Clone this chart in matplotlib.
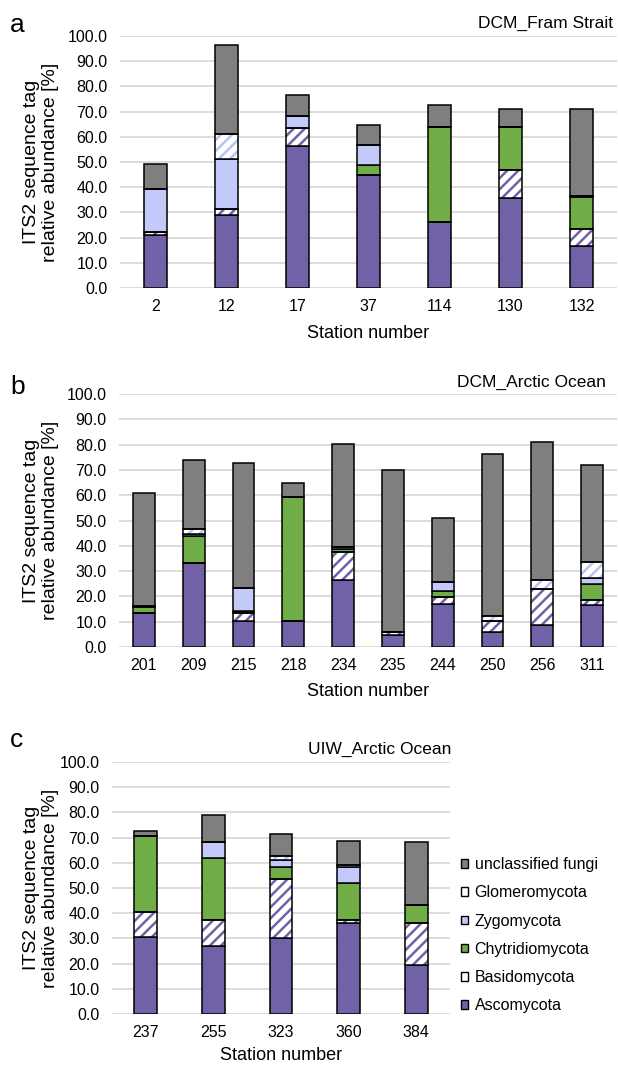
import numpy as np
import matplotlib
matplotlib.use("Agg")
import matplotlib.pyplot as plt
from matplotlib.patches import Patch

plt.rcParams["font.family"] = ["Liberation Sans", "DejaVu Sans"]
plt.rcParams["hatch.linewidth"] = 1.8

# groups in stacking order (bottom -> top)
groups = ["Ascomycota", "Basidomycota", "Chytridiomycota",
          "Zygomycota", "Glomeromycota", "unclassified fungi"]

# panel a: DCM_Fram Strait
stations_a = ["2", "12", "17", "37", "114", "130", "132"]
asco_a = [21.0, 28.8, 56.3, 45.0, 26.1, 35.8, 16.8]
basid_a = [1.4, 2.5, 7.1, 0.0, 0.0, 11.2, 6.5]
chytr_a = [0.0, 0.0, 0.0, 3.8, 37.9, 17.0, 12.7]
zygo_a = [16.9, 20.0, 4.9, 8.1, 0.0, 0.0, 0.4]
glom_a = [0.0, 9.8, 0.0, 0.0, 0.0, 0.0, 0.3]
uncl_a = [10.0, 35.5, 8.4, 7.9, 8.5, 7.2, 34.5]

# panel b: DCM_Arctic Ocean
stations_b = ["201", "209", "215", "218", "234", "235", "244", "250", "256", "311"]
asco_b = [13.6, 33.2, 10.2, 10.2, 26.4, 4.7, 17.0, 5.9, 8.8, 16.5]
basid_b = [0.0, 0.0, 3.1, 0.0, 11.1, 1.2, 2.9, 4.3, 14.0, 2.1]
chytr_b = [2.2, 10.5, 0.9, 49.0, 1.2, 0.0, 2.3, 0.0, 0.0, 6.2]
zygo_b = [0.3, 1.0, 9.3, 0.0, 1.0, 0.0, 3.5, 0.0, 0.0, 2.4]
glom_b = [0.0, 1.9, 0.0, 0.0, 0.0, 0.0, 0.0, 2.1, 3.7, 6.2]
uncl_b = [44.6, 27.5, 49.2, 5.7, 40.6, 63.9, 25.1, 63.8, 54.5, 38.6]

# panel c: UIW_Arctic Ocean
stations_c = ["237", "255", "323", "360", "384"]
asco_c = [30.5, 26.9, 30.0, 36.2, 19.3]
basid_c = [9.9, 10.6, 23.6, 1.1, 16.9]
chytr_c = [30.1, 24.6, 4.9, 14.5, 6.9]
zygo_c = [0.0, 6.2, 2.8, 6.7, 0.0]
glom_c = [0.0, 0.0, 1.5, 0.8, 0.0]
uncl_c = [2.3, 10.7, 8.5, 9.3, 25.3]

yticks = np.arange(0, 101, 10)

# fill colour, hatch colour (None = plain fill)
styles = {
    "Ascomycota": ("#7161a7", None),
    "Basidomycota": ("white", "#7161a7"),
    "Chytridiomycota": ("#70ad47", None),
    "Zygomycota": ("#c3c9f8", None),
    "Glomeromycota": ("white", "#b8c2f5"),
    "unclassified fungi": ("#7f7f7f", None),
}

W, H = 618, 1065
fig = plt.figure(figsize=(W / 100, H / 100), dpi=100)


def px_axes(left, right, top, bottom):
    return fig.add_axes([left / W, 1 - bottom / H, (right - left) / W, (bottom - top) / H])


def draw_panel(ax, stations, series, width, xpad=8):
    x = np.arange(len(stations))
    bottom = np.zeros(len(stations))
    for name, vals in zip(groups, series):
        vals = np.array(vals)
        fill, hatch_col = styles[name]
        if hatch_col is None:
            ax.bar(x, vals, width, bottom=bottom, color=fill,
                   edgecolor="black", linewidth=1.1, zorder=3)
        else:
            # hatch drawn in its own colour, outline drawn on top in black
            ax.bar(x, vals, width, bottom=bottom, color="white",
                   edgecolor=hatch_col, hatch="///", linewidth=0, zorder=3)
            ax.bar(x, vals, width, bottom=bottom, fill=False,
                   edgecolor="black", linewidth=1.1, zorder=4)
        bottom += vals

    ax.set_xlim(-0.5, len(stations) - 0.5)
    ax.set_ylim(0, 100)
    ax.set_xticks(x)
    ax.set_xticklabels(stations)
    ax.set_yticks(yticks)
    ax.set_yticklabels([f"{v:.1f}" for v in yticks])
    ax.tick_params(length=0, labelsize=11.5)
    ax.tick_params(axis="y", pad=9)
    ax.tick_params(axis="x", pad=8)
    ax.grid(axis="y", color="#d9d9d9", linewidth=1.3, zorder=0)
    ax.set_axisbelow(True)
    for s in ax.spines.values():
        s.set_visible(False)
    ax.set_xlabel("Station number", fontsize=13, labelpad=xpad)


def ylabel(top, bottom):
    fig.text(41 / W, 1 - (top + bottom) / 2 / H,
             "ITS2 sequence tag\nrelative abundance [%]",
             rotation=90, ha="center", va="center", fontsize=14, linespacing=1.1)


ax_a = px_axes(120, 617, 36, 288)
draw_panel(ax_a, stations_a, [asco_a, basid_a, chytr_a, zygo_a, glom_a, uncl_a], 0.33)
ylabel(36, 288)
fig.text(613 / W, 1 - 23 / H, "DCM_Fram Strait", ha="right", va="center", fontsize=12.5)
fig.text(10 / W, 1 - 25 / H, "a", ha="left", va="center", fontsize=19)

ax_b = px_axes(119, 617, 394, 647)
draw_panel(ax_b, stations_b, [asco_b, basid_b, chytr_b, zygo_b, glom_b, uncl_b], 0.44, xpad=7)
ylabel(394, 647)
fig.text(606 / W, 1 - 382 / H, "DCM_Arctic Ocean", ha="right", va="center", fontsize=12.5)
fig.text(10 / W, 1 - 387 / H, "b", ha="left", va="center", fontsize=19)

ax_c = px_axes(112, 450, 762, 1014)
draw_panel(ax_c, stations_c, [asco_c, basid_c, chytr_c, zygo_c, glom_c, uncl_c], 0.34, xpad=5)
ylabel(762, 1014)
fig.text(451 / W, 1 - 749 / H, "UIW_Arctic Ocean", ha="right", va="center", fontsize=12.5)
fig.text(10 / W, 1 - 740 / H, "c", ha="left", va="center", fontsize=19)

# legend, top entry first (hatched groups shown as white squares)
handles = [Patch(facecolor=styles[name][0], edgecolor="black", linewidth=1.0)
           for name in groups[::-1]]
fig.legend(handles, groups[::-1], loc="upper left", bbox_to_anchor=(461 / W, 1 - 857 / H),
           frameon=False, fontsize=11.5, handlelength=0.45, handleheight=0.45,
           handletextpad=0.4, labelspacing=0.83, borderpad=0, borderaxespad=0)

fig.savefig("out.png", dpi=100)
